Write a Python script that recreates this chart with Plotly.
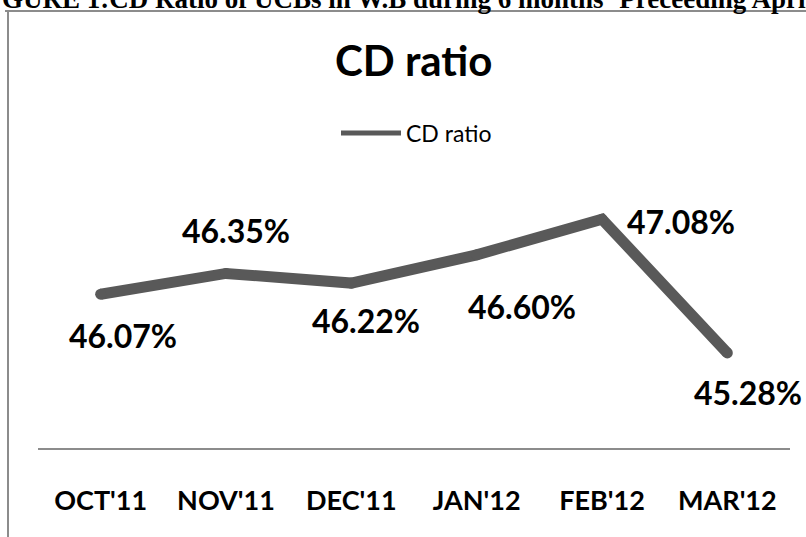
import plotly.graph_objects as go

months = ["OCT'11", "NOV'11", "DEC'11", "JAN'12", "FEB'12", "MAR'12"]
cd_ratio = [46.07, 46.35, 46.22, 46.60, 47.08, 45.28]
label_text = ["46.07%", "46.35%", "46.22%", "46.60%", "47.08%", "45.28%"]
series_name = "CD ratio"
chart_title = "CD ratio"
header_text = "GURE 1:CD Ratio of UCBs in W.B during 6 months \u2018Preceeding April"

# label offsets (pixels) relative to each point
label_dx = [22, 10, 15, 45, 79, 21]
label_dy = [-41, 43, -37, -52, -2, -40]

W, H = 806, 537
L, R, T, B = 38, 16, 188, 89
PW, PH = W - L - R, H - T - B

def px(xpix):
    return (xpix - L) / PW

def py(ypix):
    return (H - B - ypix) / PH

LINE = "#595959"

fig = go.Figure()
fig.add_trace(go.Scatter(
    x=months, y=cd_ratio, mode="lines+markers",
    line=dict(color=LINE, width=11),
    marker=dict(color=LINE, size=11),
    showlegend=False, hoverinfo="skip",
))
fig.add_trace(go.Scatter(
    x=[None], y=[None], mode="lines", name=series_name,
    line=dict(color=LINE, width=5), showlegend=True,
))

annotations = []
for m, v, t, dx, dy in zip(months, cd_ratio, label_text, label_dx, label_dy):
    annotations.append(dict(
        x=m, y=v, xref="x", yref="y", text=t, showarrow=False,
        xshift=dx, yshift=dy,
        font=dict(family="Lato", size=32, color="#000000", weight="bold"),
    ))

annotations.append(dict(
    x=px(414), y=py(60), xref="paper", yref="paper", text="<b>" + chart_title + "</b>",
    showarrow=False, xanchor="center", yanchor="middle",
    font=dict(family="Lato", size=42, color="#000000"),
))
annotations.append(dict(
    x=px(0), y=py(16), xref="paper", yref="paper", text="<b>" + header_text + "</b>",
    showarrow=False, xanchor="left", yanchor="bottom",
    font=dict(family="Liberation Serif", size=27, color="#000000"),
))

shapes = [
    dict(type="line", xref="paper", yref="paper", x0=px(5), x1=px(830), y0=py(11), y1=py(11),
         line=dict(color="#8c8c8c", width=2)),
    dict(type="line", xref="paper", yref="paper", x0=px(8), x1=px(8), y0=py(11), y1=py(560),
         line=dict(color="#8c8c8c", width=2)),
]

fig.update_layout(
    width=W, height=H,
    margin=dict(l=L, r=R, t=T, b=B),
    paper_bgcolor="white", plot_bgcolor="white",
    annotations=annotations, shapes=shapes,
    hovermode=False,
    legend=dict(
        orientation="h", x=px(336), y=py(133), xanchor="left", yanchor="middle",
        font=dict(family="Lato", size=23, color="#000000"),
        bgcolor="rgba(0,0,0,0)", itemwidth=60,
    ),
    xaxis=dict(
        type="category", range=[-0.5, 5.5],
        showline=True, linecolor="#8c8c8c", linewidth=2,
        showgrid=False, zeroline=False, ticks="",
        ticklabelstandoff=28,
        tickfont=dict(family="Lato", size=27, color="#000000", weight="bold"),
    ),
    yaxis=dict(
        range=[44.0, 47.5], showgrid=False, zeroline=False, showline=False,
        showticklabels=False, ticks="",
    ),
)

fig.write_html(
    "out.html",
    config={"displayModeBar": False},
    post_script="document.body.style.margin='0';document.body.style.overflow='hidden';",
)
